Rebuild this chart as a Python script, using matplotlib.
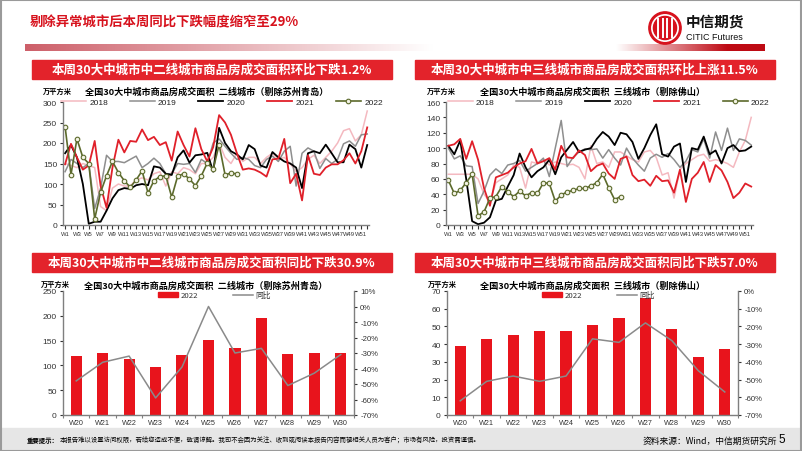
import numpy as np
import matplotlib.pyplot as plt
from matplotlib.patches import Rectangle, Circle
from matplotlib.lines import Line2D

plt.rcParams['font.family'] = ['Noto Sans CJK SC', 'DejaVu Sans']
NUM = ['Liberation Sans Narrow', 'Liberation Sans', 'DejaVu Sans']

# ---- data ----
weeks = ['W%d' % i for i in range(1, 53)]
bar_weeks = ['W20', 'W21', 'W22', 'W23', 'W24', 'W25', 'W26', 'W27', 'W28', 'W29', 'W30']

# second-tier cities (excl. Suzhou, Qingdao), 10k m2
t2_2018 = [150, 145, 140, 150, 145, 140, 45, 35, 90, 100, 95, 95, 110, 115, 110, 125, 130, 95, 130, 125,
           140, 135, 125, 150, 150, 165, 200, 165, 150, 175, 155, 165, 165, 150, 165, 175, 160, 165, 150, 130,
           140, 160, 170, 150, 165, 180, 200, 230, 235, 205, 220, 278]
t2_2019 = [130, 160, 150, 140, 150, 40, 90, 170, 155, 155, 152, 160, 168, 140, 150, 163, 150, 125, 125, 150,
           148, 150, 128, 160, 150, 200, 210, 192, 175, 160, 165, 160, 145, 140, 160, 168, 155, 180, 192, 95,
           175, 188, 180, 138, 162, 150, 160, 198, 205, 192, 220, 222]
t2_2020 = [175, 195, 165, 100, 3, 8, 8, 35, 65, 85, 90, 88, 97, 100, 97, 143, 140, 125, 122, 165,
           182, 152, 170, 172, 176, 130, 237, 200, 180, 172, 160, 195, 185, 145, 140, 178, 165, 155, 150, 140,
           90, 175, 180, 175, 196, 175, 153, 153, 196, 185, 140, 195]
t2_2021 = [148, 198, 165, 135, 145, 205, 95, 42, 140, 208, 177, 205, 203, 233, 207, 215, 195, 202, 157, 228,
           195, 167, 236, 185, 155, 190, 268, 250, 220, 175, 135, 138, 135, 128, 118, 160, 162, 210, 102, 125,
           60, 170, 125, 122, 140, 148, 148, 158, 175, 150, 180, 238]
t2_2022 = [240, 123, 210, 165, 150, 15, 80, 120, 155, 128, 108, 92, 110, 132, 78, 108, 118, 120, 68,
           119, 125, 112, 96, 120, 151, 136, 196, 123, 126, 125]
t2_bar = [119, 125, 112, 96, 120, 151, 136, 196, 123, 126, 125]
t2_yoy = [-48, -36, -32, -59, -39, 0, -30, -27, -51, -43, -31]

# third-tier cities (excl. Foshan), 10k m2
t3_2018 = [66, 66, 66, 66, 66, 60, 40, 30, 55, 60, 65, 78, 75, 48, 82, 80, 85, 78, 82, 80,
           78, 79, 75, 60, 103, 80, 82, 75, 95, 95, 90, 85, 82, 95, 97, 88, 65, 68, 35, 72,
           80, 85, 90, 92, 83, 85, 83, 80, 75, 95, 110, 140]
t3_2019 = [100, 86, 90, 77, 76, 28, 44, 65, 73, 67, 78, 80, 84, 70, 75, 80, 87, 63, 100, 136,
           76, 88, 95, 99, 98, 99, 87, 98, 87, 78, 100, 87, 78, 70, 87, 92, 88, 93, 85, 75,
           83, 98, 95, 112, 87, 121, 97, 126, 97, 112, 110, 104]
t3_2020 = [103, 92, 110, 60, 5, 1, 3, 10, 32, 34, 50, 65, 93, 75, 62, 70, 75, 85, 66, 88,
           98, 108, 95, 98, 100, 112, 121, 115, 104, 120, 118, 108, 86, 100, 117, 131, 92, 89, 102, 106,
           56, 100, 98, 115, 92, 97, 80, 100, 104, 96, 97, 102]
t3_2021 = [103, 105, 112, 86, 109, 85, 48, 25, 62, 65, 68, 75, 80, 83, 99, 80, 83, 87, 72, 103,
           88, 87, 97, 91, 70, 77, 80, 67, 60, 86, 89, 65, 57, 59, 51, 64, 57, 58, 42, 72,
           30, 60, 68, 82, 56, 78, 71, 56, 35, 42, 54, 50]
t3_2022 = [58, 41, 45, 55, 66, 12, 17, 35, 37, 50, 43, 37, 44, 38, 42, 41, 55, 54, 31,
           39, 43, 45, 47.5, 47.5, 51, 55, 66, 48.5, 33, 37]
t3_bar = [39, 43, 45, 47.5, 47.5, 51, 55, 66, 48.5, 33, 37]
t3_yoy = [-62, -51, -48, -51, -48, -27, -29, -18, -28, -45, -57]

# ---- colours ----
RED = '#E3232B'
C2018, C2019, C2020, C2021, C2022 = '#F4B9C0', '#8E8E8E', '#000000', '#E0202A', '#5C6A2C'
BAR = '#E8141C'
YOY = '#8A8A8A'
AX = '#7F7F7F'

W, H = 802, 452
fig = plt.figure(figsize=(W / 100, H / 100), dpi=100)


def box(x0, y0, x1, y1):
    return [x0 / W, 1 - y1 / H, (x1 - x0) / W, (y1 - y0) / H]


def ftext(x, y, s, **kw):
    fig.text(x / W, 1 - y / H, s, **kw)


# slide frame and footer
fig.patches.append(Rectangle((0, 0), 1, 23 / H, transform=fig.transFigure, color='#E6E6E6', zorder=0))
fig.patches.append(Rectangle((0.001, 0.001), 0.998, 0.997, transform=fig.transFigure, fill=False,
                             ec='#9A9A9A', lw=1.5, zorder=5))

# title
ftext(30, 22, '剔除异常城市后本周同比下跌幅度缩窄至29%', color='#D7121D', fontsize=9.6,
      fontweight='bold', va='center', ha='left')

# gradient bar under title
gax = fig.add_axes(box(25, 45, 765, 52))
t = np.linspace(0, 1, 600)
r = np.interp(t, [0, 0.55, 0.8, 0.95, 1], [205, 255, 255, 190, 190])
g = np.interp(t, [0, 0.55, 0.8, 0.95, 1], [95, 255, 255, 10, 10])
b = np.interp(t, [0, 0.55, 0.8, 0.95, 1], [105, 255, 255, 20, 20])
grad = np.dstack([r, g, b])[0][None, :, :] / 255
gax.imshow(grad, aspect='auto', extent=[0, 1, 0, 1])
gax.axis('off')

# logo
lax = fig.add_axes(box(648, 12, 682, 46))
lax.set_xlim(-1, 1)
lax.set_ylim(-1, 1)
lax.set_aspect('equal')
lax.add_patch(Circle((0, 0), 0.95, color='#D7121D'))
lax.add_patch(Circle((0, 0), 0.78, color='white'))
lax.add_patch(Circle((0, 0), 0.68, color='#D7121D'))
for xx in [-0.4, -0.13, 0.13, 0.4]:
    lax.plot([xx, xx], [-0.55, 0.55], color='white', lw=1.4)
lax.axis('off')
ftext(686, 22, '中信期货', fontsize=10.5, fontweight='bold', va='center', ha='left', color='#111111')
ftext(686, 37, 'CITIC Futures', fontsize=6.5, va='center', ha='left', color='#111111',
      family=NUM)

# panel headers
headers = [
    (32, 61, 392, 80, '本周30大中城市中二线城市商品房成交面积环比下跌1.2%'),
    (415, 61, 775, 80, '本周30大中城市中三线城市商品房成交面积环比上涨11.5%'),
    (32, 254, 392, 273, '本周30大中城市中二线城市商品房成交面积同比下跌30.9%'),
    (415, 254, 775, 273, '本周30大中城市中三线城市商品房成交面积同比下跌57.0%'),
]
for x0, y0, x1, y1, s in headers:
    fig.patches.append(Rectangle((x0 / W, 1 - y1 / H), (x1 - x0) / W, (y1 - y0) / H,
                                 transform=fig.transFigure, color=RED, zorder=1))
    ftext((x0 + x1) / 2, (y0 + y1) / 2, s, color='white', fontsize=9, fontweight='bold',
          ha='center', va='center', zorder=2)


def style_axes(ax):
    for s in ['top', 'right']:
        ax.spines[s].set_visible(False)
    for s in ['left', 'bottom']:
        ax.spines[s].set_color(AX)
        ax.spines[s].set_linewidth(1.0)
    ax.tick_params(colors='#333333', width=0.8)
    ax.set_facecolor('none')


def line_chart(rect, s18, s19, s20, s21, s22, ymax, ystep, title, title_x, unit_x, leg_x):
    ax = fig.add_axes(rect)
    x = np.arange(len(weeks))
    ax.plot(x[:len(s18)], s18, color=C2018, lw=1.1, label='2018')
    ax.plot(x[:len(s19)], s19, color=C2019, lw=1.1, label='2019')
    ax.plot(x[:len(s20)], s20, color=C2020, lw=1.3, label='2020')
    ax.plot(x[:len(s21)], s21, color=C2021, lw=1.3, label='2021')
    ax.plot(x[:len(s22)], s22, color=C2022, lw=1.2, marker='o', ms=3.3, mfc='#F3F3E4',
            mec=C2022, mew=0.8, label='2022')
    ax.set_xlim(-0.4, 51.3)
    ax.set_ylim(0, ymax)
    ax.set_yticks(np.arange(0, ymax + 1, ystep))
    ax.set_xticks(x)
    ax.set_xticklabels([w if i % 2 == 0 else '' for i, w in enumerate(weeks)])
    style_axes(ax)
    ax.tick_params(axis='x', length=3, pad=1.5, labelsize=4.2)
    ax.tick_params(axis='y', length=2.5, pad=1.5, labelsize=6)
    for lab in ax.get_xticklabels() + ax.get_yticklabels():
        lab.set_family(NUM)
    leg = ax.legend(ncol=5, loc='center', bbox_to_anchor=(leg_x, 1.0), frameon=False,
                    fontsize=6, handlelength=3.0, columnspacing=2.6, handletextpad=0.4,
                    borderaxespad=0)
    for tx in leg.get_texts():
        tx.set_family(NUM)
        tx.set_color('#222222')
    ftext(title_x, 92, title, fontsize=6.6, fontweight='bold', ha='center', va='center')
    ftext(unit_x, 91, '万平方米', fontsize=5.2, fontweight='bold', ha='left', va='center')
    return ax


line_chart(box(62.7, 103, 369, 226), t2_2018, t2_2019, t2_2020, t2_2021, t2_2022, 300, 50,
           '全国30大中城市商品房成交面积  二线城市（剔除苏州青岛）', 207, 43, 0.52)
line_chart(box(446, 103, 753, 226), t3_2018, t3_2019, t3_2020, t3_2021, t3_2022, 160, 20,
           '全国30大中城市商品房成交面积  三线城市（剔除佛山）', 592, 427, 0.53)


def bar_chart(rect, vals, yoy, ymax, ystep, ymin2, ymax2, title, title_x, unit_x):
    ax = fig.add_axes(rect)
    x = np.arange(len(bar_weeks))
    ax.bar(x, vals, width=0.42, color=BAR, label='2022', zorder=2)
    ax.set_xlim(-0.5, len(bar_weeks) - 0.5)
    ax.set_ylim(0, ymax)
    ax.set_yticks(np.arange(0, ymax + 1, ystep))
    ax.set_xticks(x)
    ax.set_xticklabels(bar_weeks)
    ax.set_xticks(np.arange(-0.5, len(bar_weeks), 1), minor=True)
    style_axes(ax)
    ax.tick_params(axis='x', which='major', length=0, pad=3, labelsize=5.2)
    ax.tick_params(axis='x', which='minor', length=2.5, width=0.8, colors=AX)
    ax.tick_params(axis='y', length=2.5, pad=2, labelsize=6)
    ax2 = ax.twinx()
    ax2.plot(x, yoy, color=YOY, lw=1.1, label='同比', zorder=3)
    ax2.set_ylim(ymin2, ymax2)
    ax2.set_yticks(np.arange(ymin2, ymax2 + 1, 10))
    ax2.set_yticklabels(['%d%%' % v for v in np.arange(ymin2, ymax2 + 1, 10)])
    for s in ['top', 'left', 'bottom']:
        ax2.spines[s].set_visible(False)
    ax2.spines['right'].set_color(AX)
    ax2.spines['right'].set_linewidth(1.0)
    ax2.tick_params(axis='y', length=2.5, pad=2, labelsize=5.6, colors='#333333', width=0.8)
    for lab in ax.get_xticklabels() + ax.get_yticklabels() + ax2.get_yticklabels():
        lab.set_family(NUM)
    handles = [Rectangle((0, 0), 1, 1, color=BAR),
               Line2D([0], [0], color=YOY, lw=1.1)]
    leg = ax.legend(handles, ['2022', '同比'], ncol=2, loc='center', bbox_to_anchor=(0.52, 0.965),
                    frameon=False, fontsize=5.6, handlelength=2.6, handleheight=0.55,
                    columnspacing=4.5, handletextpad=0.3, borderaxespad=0)
    for tx in leg.get_texts():
        tx.set_color('#333333')
    ftext(title_x, 286, title, fontsize=6.6, fontweight='bold', ha='center', va='center')
    ftext(unit_x, 284, '万平方米', fontsize=5.2, fontweight='bold', ha='left', va='center')


bar_chart(box(63, 292, 354, 416), t2_bar, t2_yoy, 250, 50, -70, 10,
          '全国30大中城市商品房成交面积  二线城市（剔除苏州青岛）', 206, 41)
bar_chart(box(447, 292, 738, 416), t3_bar, t3_yoy, 70, 10, -70, 0,
          '全国30大中城市商品房成交面积  三线城市（剔除佛山）', 592, 428)

# footer
ftext(27, 441, '重要提示：', fontsize=4.6, fontweight='bold', ha='left', va='center')
ftext(60, 441, '本报告难以设置访问权限，若给您造成不便，敬请谅解。我司不会因为关注、收到或阅读本报告内容而视相关人员为客户；市场有风险，投资需谨慎。',
      fontsize=4.6, ha='left', va='center')
ftext(643, 441, '资料来源：Wind，中信期货研究所', fontsize=6.3, ha='left', va='center')
ftext(782, 440, '5', fontsize=8.5, ha='center', va='center', family=NUM)

fig.savefig('out.png', dpi=100)
